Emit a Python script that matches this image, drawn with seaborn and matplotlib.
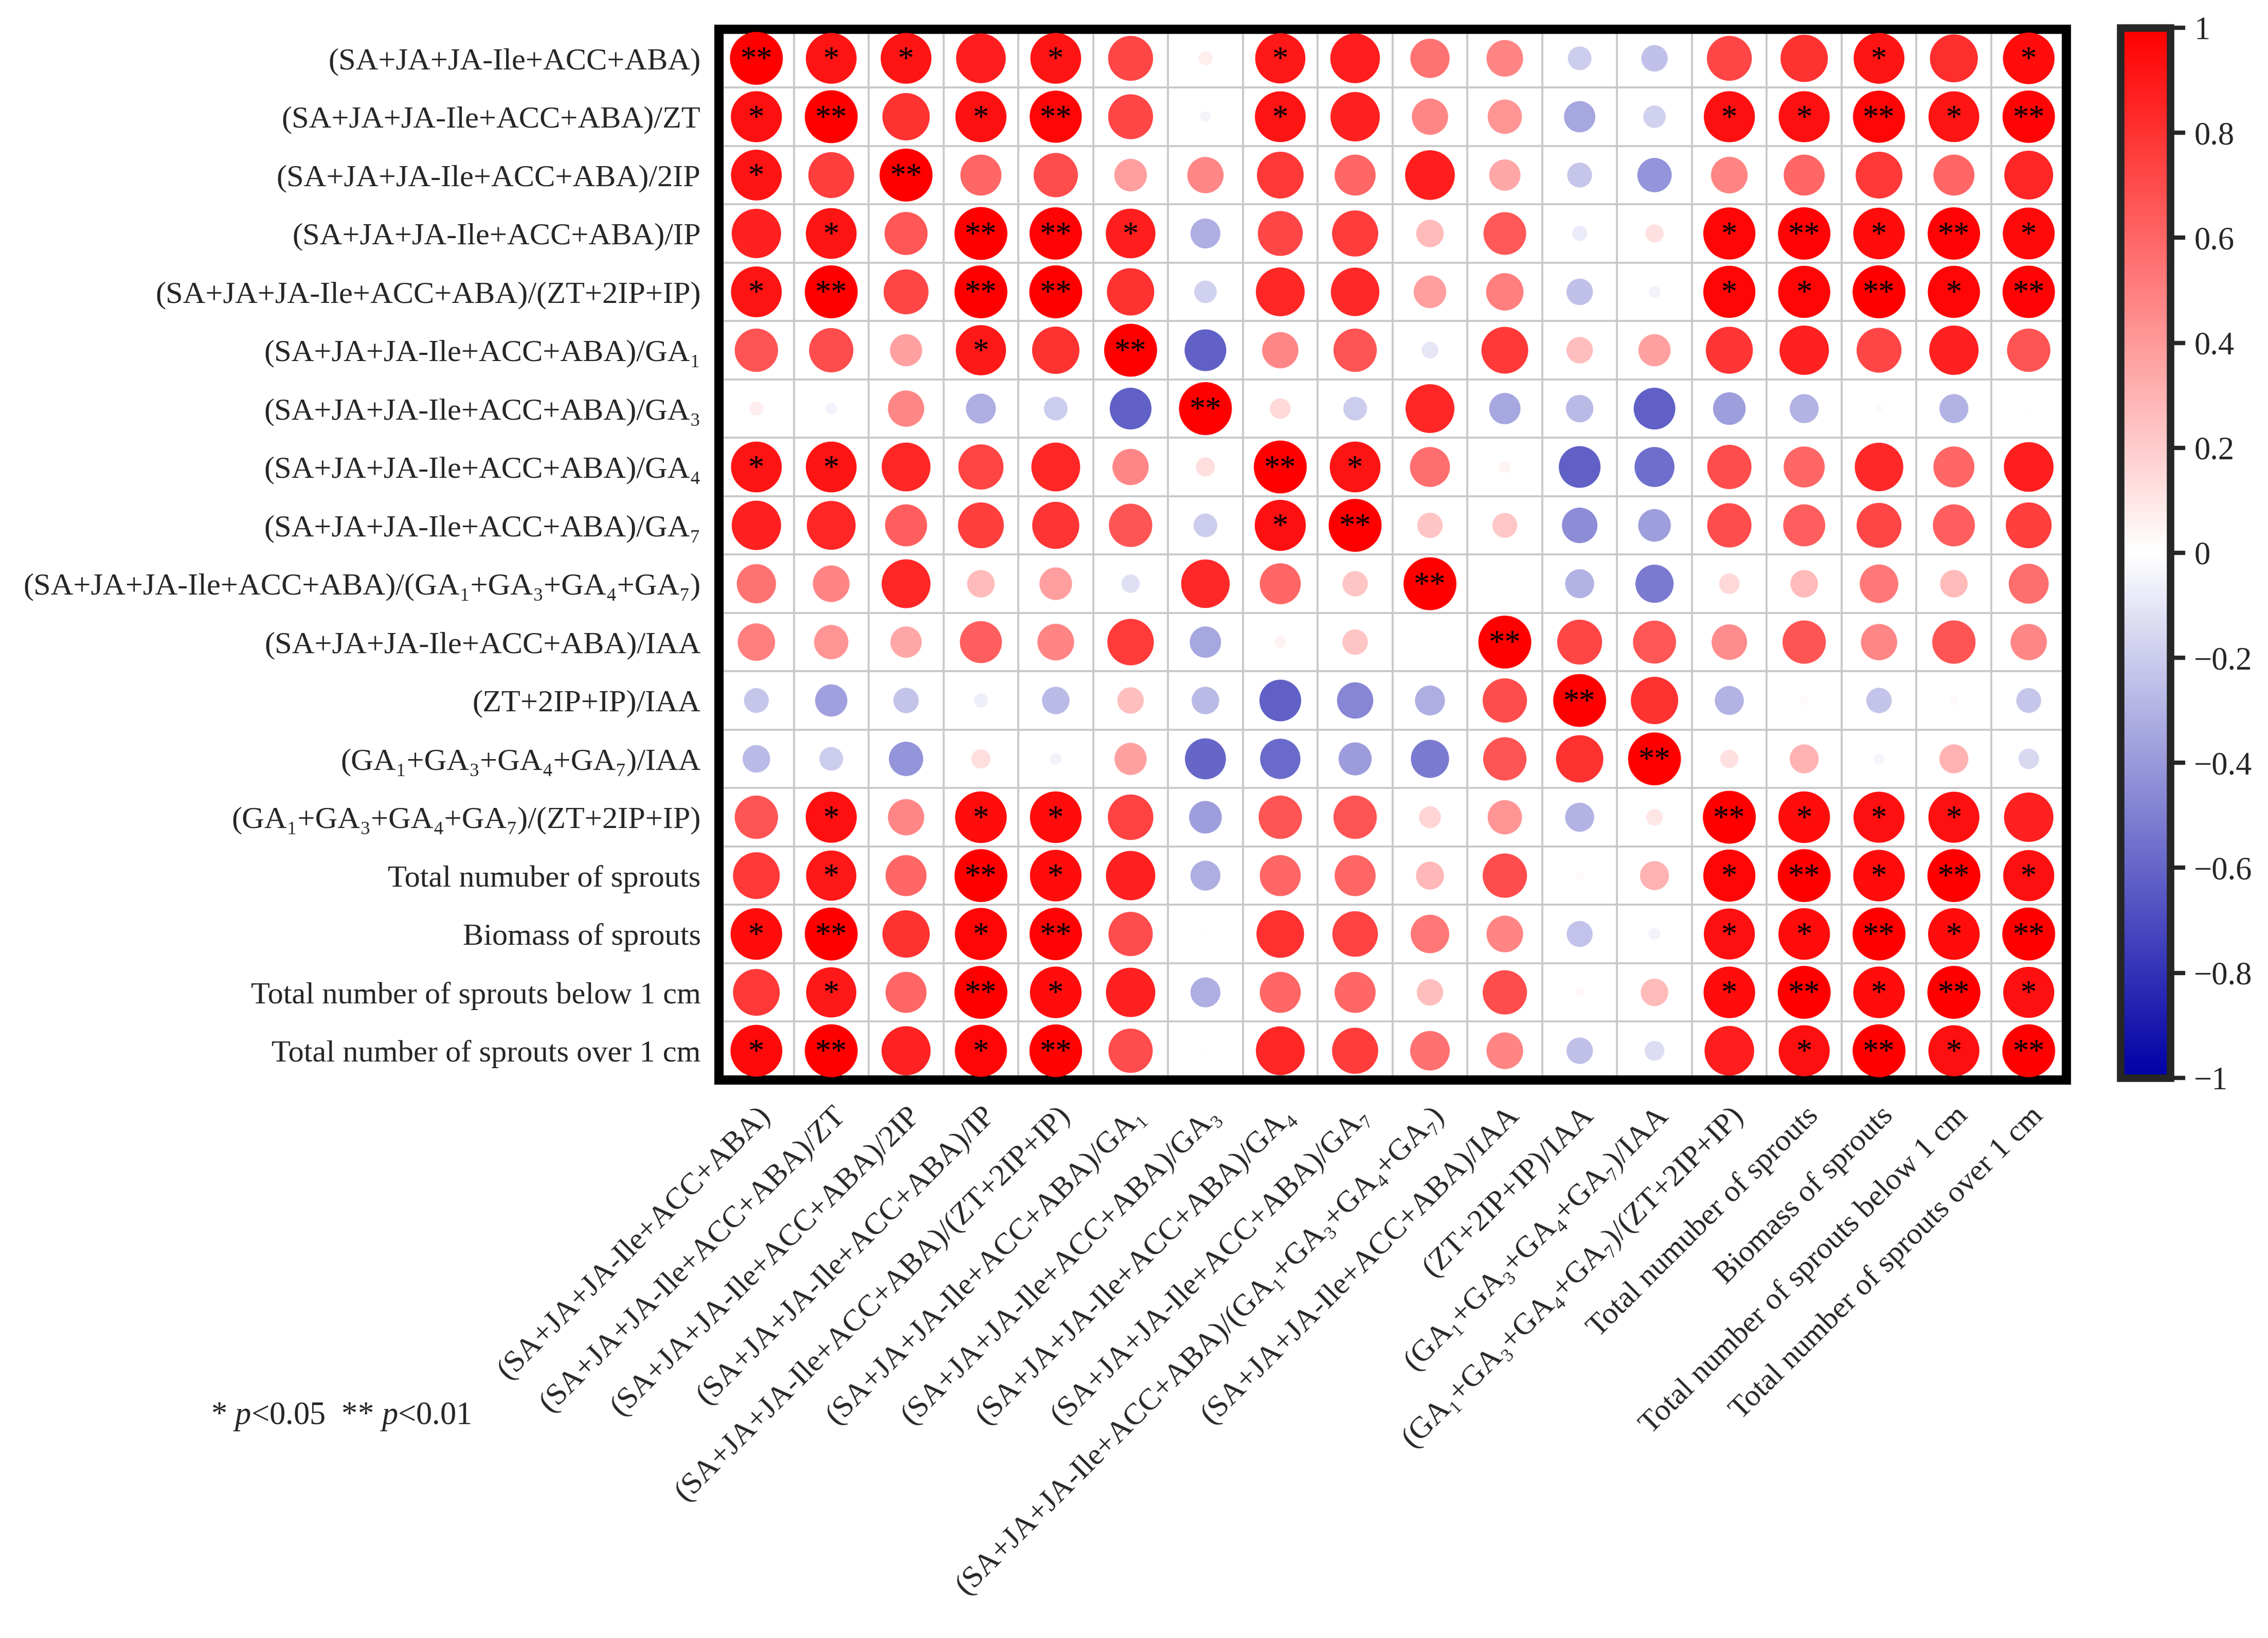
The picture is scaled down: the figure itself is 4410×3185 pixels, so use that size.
import numpy as np
import pandas as pd
import matplotlib
matplotlib.use("Agg")
import matplotlib.pyplot as plt
import seaborn as sns
from matplotlib.colors import LinearSegmentedColormap, Normalize
import matplotlib.cm as cm

# ---------------- data ----------------
labels = [
    "(SA+JA+JA-Ile+ACC+ABA)",
    "(SA+JA+JA-Ile+ACC+ABA)/ZT",
    "(SA+JA+JA-Ile+ACC+ABA)/2IP",
    "(SA+JA+JA-Ile+ACC+ABA)/IP",
    "(SA+JA+JA-Ile+ACC+ABA)/(ZT+2IP+IP)",
    "(SA+JA+JA-Ile+ACC+ABA)/GA₁",
    "(SA+JA+JA-Ile+ACC+ABA)/GA₃",
    "(SA+JA+JA-Ile+ACC+ABA)/GA₄",
    "(SA+JA+JA-Ile+ACC+ABA)/GA₇",
    "(SA+JA+JA-Ile+ACC+ABA)/(GA₁+GA₃+GA₄+GA₇)",
    "(SA+JA+JA-Ile+ACC+ABA)/IAA",
    "(ZT+2IP+IP)/IAA",
    "(GA₁+GA₃+GA₄+GA₇)/IAA",
    "(GA₁+GA₃+GA₄+GA₇)/(ZT+2IP+IP)",
    "Total numuber of sprouts",
    "Biomass of sprouts",
    "Total number of sprouts below 1 cm",
    "Total number of sprouts over 1 cm",
]

corr_rows = [
    [1.0, 0.92, 0.92, 0.88, 0.92, 0.72, 0.07, 0.9, 0.88, 0.55, 0.48, -0.2, -0.25, 0.72, 0.8, 0.92, 0.82, 0.95],
    [0.93, 1.0, 0.8, 0.93, 0.97, 0.72, -0.04, 0.92, 0.87, 0.47, 0.42, -0.35, -0.18, 0.93, 0.93, 0.97, 0.92, 0.98],
    [0.92, 0.75, 1.0, 0.6, 0.7, 0.38, 0.47, 0.78, 0.6, 0.88, 0.35, -0.22, -0.42, 0.48, 0.6, 0.78, 0.6, 0.85],
    [0.87, 0.92, 0.66, 1.0, 0.98, 0.88, -0.32, 0.72, 0.76, 0.27, 0.65, -0.08, 0.12, 0.97, 0.98, 0.95, 0.98, 0.96],
    [0.92, 1.0, 0.72, 1.0, 1.0, 0.8, -0.18, 0.85, 0.84, 0.38, 0.5, -0.25, -0.05, 0.97, 0.97, 1.0, 0.97, 0.98],
    [0.67, 0.7, 0.37, 0.9, 0.8, 1.0, -0.62, 0.47, 0.67, -0.1, 0.78, 0.25, 0.37, 0.79, 0.87, 0.72, 0.87, 0.67],
    [0.07, -0.05, 0.47, -0.32, -0.2, -0.62, 1.0, 0.15, -0.2, 0.85, -0.35, -0.27, -0.62, -0.38, -0.3, 0.02, -0.3, 0.01],
    [0.92, 0.92, 0.85, 0.73, 0.85, 0.47, 0.13, 1.0, 0.92, 0.57, 0.05, -0.62, -0.57, 0.7, 0.6, 0.84, 0.6, 0.88],
    [0.87, 0.85, 0.63, 0.75, 0.79, 0.67, -0.2, 0.93, 1.0, 0.23, 0.22, -0.45, -0.38, 0.7, 0.63, 0.72, 0.63, 0.75],
    [0.55, 0.48, 0.85, 0.27, 0.38, -0.12, 0.84, 0.6, 0.23, 1.0, 0.0, -0.3, -0.52, 0.15, 0.27, 0.53, 0.27, 0.57],
    [0.5, 0.42, 0.35, 0.63, 0.48, 0.77, -0.35, 0.05, 0.23, 0.0, 1.0, 0.72, 0.66, 0.45, 0.67, 0.47, 0.67, 0.47],
    [-0.22, -0.37, -0.23, -0.07, -0.27, 0.25, -0.27, -0.62, -0.47, -0.32, 0.7, 1.0, 0.8, -0.3, 0.03, -0.23, 0.03, -0.22],
    [-0.27, -0.2, -0.42, 0.13, -0.05, 0.37, -0.6, -0.58, -0.39, -0.52, 0.67, 0.8, 1.0, 0.12, 0.3, -0.04, 0.3, -0.15],
    [0.67, 0.93, 0.47, 0.95, 0.95, 0.74, -0.38, 0.67, 0.67, 0.17, 0.42, -0.3, 0.1, 1.0, 0.95, 0.93, 0.93, 0.87],
    [0.78, 0.9, 0.6, 1.0, 0.95, 0.87, -0.32, 0.6, 0.6, 0.28, 0.7, 0.03, 0.3, 0.97, 1.0, 0.95, 1.0, 0.93],
    [0.95, 1.0, 0.8, 0.97, 0.98, 0.7, 0.01, 0.81, 0.74, 0.53, 0.48, -0.24, -0.05, 0.93, 0.95, 1.0, 0.95, 1.0],
    [0.78, 0.9, 0.6, 1.0, 0.95, 0.87, -0.32, 0.6, 0.6, 0.25, 0.7, 0.03, 0.27, 0.95, 1.0, 0.95, 1.0, 0.93],
    [0.96, 1.0, 0.86, 0.97, 0.99, 0.7, 0.01, 0.85, 0.76, 0.56, 0.48, -0.25, -0.14, 0.88, 0.93, 1.0, 0.93, 1.0],
]

# significance level per cell: 0 none, 1 -> *, 2 -> **
sig_rows = [
    "211010010000000101",
    "120120010000011212",
    "102000000000000000",
    "010221000000012121",
    "120220000000011212",
    "000102000000000000",
    "000000200000000000",
    "110000021000000000",
    "000000012000000000",
    "000000000200000000",
    "000000000020000000",
    "000000000002000000",
    "000000000000200000",
    "010110000000021110",
    "010210000000012121",
    "120120000000011212",
    "010210000000012121",
    "120120000000001212",
]

cbar_ticks = [-1, -0.8, -0.6, -0.4, -0.2, 0, 0.2, 0.4, 0.6, 0.8, 1]
cbar_ticklabels = ["−1", "−0.8", "−0.6", "−0.4", "−0.2", "0", "0.2", "0.4", "0.6", "0.8", "1"]

# ---------------- style ----------------
sns.set_theme(style="white")
plt.rcParams["font.family"] = ["Liberation Serif", "DejaVu Serif"]
plt.rcParams["mathtext.fontset"] = "custom"
plt.rcParams["mathtext.rm"] = "Liberation Serif"
plt.rcParams["mathtext.it"] = "Liberation Serif:italic"

n = len(labels)
records = []
for i in range(n):
    for j in range(n):
        records.append({"row": i, "col": j, "r": corr_rows[i][j],
                        "absr": abs(corr_rows[i][j]), "sig": int(sig_rows[i][j])})
df = pd.DataFrame(records)

cmap = LinearSegmentedColormap.from_list(
    "corr", [(0.0, (0.0, 0.0, 0.65)), (0.5, (1.0, 1.0, 1.0)), (1.0, (1.0, 0.0, 0.0))])

fig = plt.figure(figsize=(14.7, 10.6167), dpi=300)
ax = fig.add_axes([0.317, 0.3407, 0.594, 0.6415])

sns.scatterplot(data=df, x="col", y="row", hue="r", size="absr",
                palette=cmap, hue_norm=(-1, 1), sizes=(0, 610), size_norm=(0, 1),
                linewidth=0, legend=False, ax=ax, zorder=3)

for _, rec in df[df["sig"] > 0].iterrows():
    ax.text(rec["col"], rec["row"] + 0.05, "*" * int(rec["sig"]), ha="center", va="center",
            fontsize=15, color="black", zorder=4)

ax.set_xlim(-0.5, n - 0.5)
ax.set_ylim(n - 0.5, -0.5)
ax.set_xticks(range(n))
ax.set_yticks(range(n))
ax.set_xticklabels(labels, rotation=45, ha="right", va="top", rotation_mode="anchor", fontsize=14.5)
ax.set_yticklabels(labels, fontsize=14.5)
ax.set_xticks(np.arange(-0.5, n, 1.0), minor=True)
ax.set_yticks(np.arange(-0.5, n, 1.0), minor=True)
ax.grid(False, which="major")
ax.grid(True, which="minor", color="#C8C8C8", linewidth=0.9)
ax.set_axisbelow(True)
ax.tick_params(which="both", length=0)
ax.tick_params(axis="y", pad=8.5)
ax.tick_params(axis="x", pad=10)
ax.set_xlabel("")
ax.set_ylabel("")
for sp in ax.spines.values():
    sp.set_visible(True)
    sp.set_linewidth(4.3)
    sp.set_color("black")

cax = fig.add_axes([0.935, 0.342, 0.022, 0.641])
cb = fig.colorbar(cm.ScalarMappable(norm=Normalize(-1, 1), cmap=cmap), cax=cax, ticks=cbar_ticks)
cb.ax.set_yticklabels(cbar_ticklabels)
cb.outline.set_linewidth(3.5)
cb.ax.tick_params(length=7, width=2, labelsize=15, pad=4)

fig.text(0.093, 0.135, r"* $\it{p}$<0.05  ** $\it{p}$<0.01", fontsize=15, ha="left", va="center")

fig.savefig("out.png", dpi=300, facecolor="white")
